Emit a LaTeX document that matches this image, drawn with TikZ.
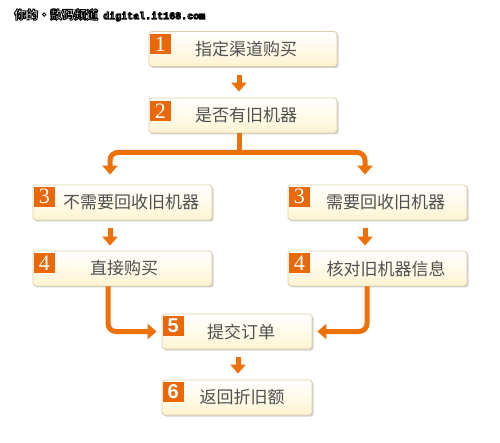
\documentclass[tikz,border=0pt]{standalone}
\usepackage{fontspec}
\newfontfamily\cjk{Noto Sans CJK SC}
\newfontfamily\numserif{Liberation Serif}
\newfontfamily\numsans{Liberation Sans}
\newfontfamily\monof{Liberation Mono}
\usetikzlibrary{arrows.meta,shadows,calc}
\definecolor{orng}{HTML}{EE7008}
\definecolor{badge}{HTML}{E8680A}
\definecolor{boxborder}{HTML}{DCD0A8}
\definecolor{boxbot}{HTML}{FFF4D2}
\definecolor{txt}{HTML}{505050}
\newcommand\outltxt[1]{{\color{white}\special{pdf:code 0 G 2 Tr 0.9 w}#1\special{pdf:code 0 Tr 1 w}}}
\begin{document}
\begin{tikzpicture}[x=1pt,y=-1pt,
 stepbox/.style={draw=boxborder, line width=0.8pt, rounded corners=3pt,
   top color=white, bottom color=boxbot, minimum height=35pt, inner sep=0pt,
   font=\cjk\fontsize{17}{17}\selectfont, text=txt,
   drop shadow={shadow xshift=1.5pt, shadow yshift=-1.5pt, opacity=0.18, fill=black}},
 widebox/.style={stepbox, minimum width=188pt},
 midbox/.style={stepbox, minimum width=179pt},
 smallbox/.style={stepbox, minimum width=150pt},
 badgebox/.style={fill=badge, minimum width=21pt, minimum height=20pt, inner sep=0pt,
   text=white, anchor=north west, font=\numserif\fontsize{22}{22}\selectfont},
 badgesans/.style={badgebox, font=\numsans\bfseries\fontsize{20}{20}\selectfont},
 flow/.style={draw=orng, line width=5pt, -{Triangle[width=15pt,length=9pt]}},
 plainflow/.style={draw=orng, line width=5pt},
]
\useasboundingbox[fill=white] (0,0) rectangle (500,443);

% title
\node[anchor=west, inner sep=0pt] (title) at (14,15)
  {\outltxt{\cjk\bfseries\fontsize{12}{12}\selectfont 你的・数码频道\hspace{5pt}\monof\bfseries\fontsize{10}{10}\selectfont digital.it168.com}};

% boxes
\node[widebox] (b1) at (243,49) {\hspace*{6pt}指定渠道购买};
\node[widebox] (b2) at (243,115.5) {\hspace*{6pt}是否有旧机器};
\node[midbox] (b3l) at (122.5,202.5) {\hspace*{17pt}不需要回收旧机器};
\node[midbox] (b4l) at (122.5,268.5) {\hspace*{3pt}直接购买};
\node[midbox] (b3r) at (377.5,202.5) {\hspace*{16pt}需要回收旧机器};
\node[midbox] (b4r) at (377.5,268.5) {\hspace*{17pt}核对旧机器信息};
\node[smallbox] (b5) at (237,331.5) {\hspace*{8pt}提交订单};
\node[smallbox] (b6) at (237,397.5) {\hspace*{10pt}返回折旧额};

% badges
\node[badgebox] (n1) at ($(b1.north west)+(1,3)$) {1};
\node[badgebox] (n2) at ($(b2.north west)+(1,3)$) {2};
\node[badgebox] (n3l) at ($(b3l.north west)+(1,2)$) {3};
\node[badgebox] (n4l) at ($(b4l.north west)+(1,2)$) {4};
\node[badgebox] (n3r) at ($(b3r.north west)+(1,2)$) {3};
\node[badgebox] (n4r) at ($(b4r.north west)+(1,2)$) {4};
\node[badgesans] (n5) at ($(b5.north west)+(1,2)$) {5};
\node[badgesans] (n6) at ($(b6.north west)+(1,2)$) {6};

% arrows
\draw[flow] ($(b1.south)+(-4,8)$) -- ($(b2.north)+(-4,-6)$);
\coordinate (split) at ($(b2.south)+(-4,19)$);
\draw[plainflow] ($(b2.south)+(-4,0)$) -- ($(split)+(0,2.5)$);
\coordinate (tl) at ($(b3l.north)+(-12.5,-10)$);
\coordinate (tr) at ($(b3r.north)+(-12.5,-10)$);
\draw[flow, rounded corners=8pt] (split) -- (split -| tl) -- (tl);
\draw[flow, rounded corners=8pt] (split) -- (split -| tr) -- (tr);
\draw[flow] ($(b3l.south)+(-12.5,8)$) -- ($(b4l.north)+(-12.5,-5)$);
\draw[flow] ($(b3r.south)+(-12.5,8)$) -- ($(b4r.north)+(-12.5,-5)$);
\coordinate (sl) at ($(b4l.south)+(-14.5,0)$);
\coordinate (sr) at ($(b4r.south)+(-10.5,0)$);
\coordinate (el) at ($(b5.west)+(-5,0)$);
\coordinate (er) at ($(b5.east)+(5,0)$);
\draw[flow, rounded corners=8pt] (sl) -- (sl |- el) -- (el);
\draw[flow, rounded corners=8pt] (sr) -- (sr |- er) -- (er);
\draw[flow] ($(b5.south)+(1,8)$) -- ($(b6.north)+(1,-6)$);
\end{tikzpicture}
\end{document}
